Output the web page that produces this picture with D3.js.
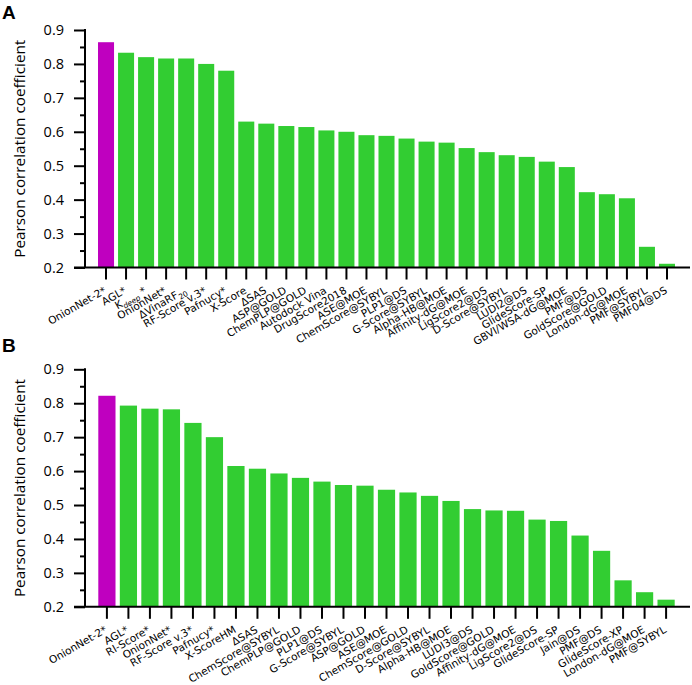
<!DOCTYPE html>
<html>
<head>
<meta charset="utf-8">
<script src="https://cdnjs.cloudflare.com/ajax/libs/d3/7.8.5/d3.min.js"></script>
<style>
  body { margin: 0; background: #fff; }
  svg { display: block; }
</style>
</head>
<body>
<svg id="chart" width="692" height="685"></svg>
<script>
// panel A
var namesA = ["OnionNet-2*", "AGL*", "K_{deep} *", "OnionNet*", "ΔVinaRF_{20}", "RF-Score v.3*",
  "Pafnucy*", "X-Score", "ΔSAS", "ASP@GOLD", "ChemPLP@GOLD", "Autodock Vina", "DrugScore2018",
  "ASE@MOE", "ChemScore@SYBYL", "PLP1@DS", "G-Score@SYBYL", "Alpha-HB@MOE", "Affinity-dG@MOE",
  "LigScore2@DS", "D-Score@SYBYL", "LUDI2@DS", "GlideScore-SP", "GBVI/WSA-dG@MOE", "PMF@DS",
  "GoldScore@GOLD", "London-dG@MOE", "PMF@SYBYL", "PMF04@DS"];
var valuesA = [0.864, 0.833, 0.820, 0.816, 0.816, 0.800, 0.780, 0.630, 0.624, 0.617, 0.614,
  0.604, 0.600, 0.590, 0.588, 0.580, 0.571, 0.568, 0.552, 0.540, 0.531, 0.526, 0.512, 0.496,
  0.422, 0.416, 0.404, 0.261, 0.211];

// panel B
var namesB = ["OnionNet-2*", "AGL*", "RI-Score*", "OnionNet*", "RF-Score v.3*", "Pafnucy*",
  "X-ScoreHM", "ΔSAS", "ChemScore@SYBYL", "ChemPLP@GOLD", "PLP1@DS", "G-Score@SYBYL",
  "ASP@GOLD", "ASE@MOE", "ChemScore@GOLD", "D-Score@SYBYL", "Alpha-HB@MOE", "LUDI3@DS",
  "GoldScore@GOLD", "Affinity-dG@MOE", "LigScore2@DS", "GlideScore-SP", "Jain@DS", "PMF@DS",
  "GlideScore-XP", "London-dG@MOE", "PMF@SYBYL"];
var valuesB = [0.822, 0.793, 0.784, 0.782, 0.742, 0.700, 0.615, 0.607, 0.593, 0.580, 0.569,
  0.559, 0.557, 0.545, 0.537, 0.527, 0.512, 0.488, 0.484, 0.483, 0.457, 0.453, 0.410, 0.365,
  0.278, 0.243, 0.221];

var yTicks = [0.2, 0.3, 0.4, 0.5, 0.6, 0.7, 0.8, 0.9];
var yMinor = [0.25, 0.35, 0.45, 0.55, 0.65, 0.75, 0.85];

var svg = d3.select("#chart");

function drawPanel(letter, letterY, names, values, top) {
  var g = svg.append("g").attr("transform", "translate(0," + top + ")");

  var y = d3.scaleLinear().domain([0.2, 0.9]).range([237.5, 0]);
  var x = d3.scaleBand().domain(names).range([94, 679]).padding(0.2);
  var axisX = 85;

  svg.append("text")
    .attr("x", 2).attr("y", letterY)
    .style("font-family", "Liberation Sans, Arial, sans-serif")
    .style("font-size", "19px").style("font-weight", "bold")
    .text(letter);

  g.selectAll("rect.bar")
    .data(values)
    .enter()
    .append("rect")
    .attr("class", "bar")
    .attr("x", (d, i) => x(names[i]))
    .attr("width", x.bandwidth())
    .attr("y", d => y(d))
    .attr("height", d => y(0.2) - y(d))
    .style("fill", (d, i) => i == 0 ? "#bf00bf" : "#32cd32");

  // y axis
  var ya = g.append("g")
    .attr("transform", "translate(" + axisX + ",0)")
    .call(d3.axisLeft(y).tickValues(yTicks).tickSize(11).tickPadding(10).tickFormat(d3.format(".1f")));
  ya.select(".domain").remove();
  ya.selectAll("line").attr("stroke-width", 2);
  ya.selectAll("text")
    .style("font-family", "Open Sans, sans-serif")
    .style("font-size", "14.5px")
    .style("fill", "#000");

  g.append("g")
    .attr("transform", "translate(" + axisX + ",0)")
    .call(d3.axisLeft(y).tickValues(yMinor).tickSize(5).tickFormat(""))
    .call(a => a.select(".domain").remove())
    .selectAll("line").attr("stroke-width", 2);

  g.append("line")
    .attr("x1", axisX).attr("x2", axisX)
    .attr("y1", y(0.9) - 1).attr("y2", y(0.2))
    .attr("stroke", "#000").attr("stroke-width", 2);

  // x axis
  g.append("line")
    .attr("x1", 74).attr("x2", 690)
    .attr("y1", y(0.2)).attr("y2", y(0.2))
    .attr("stroke", "#000").attr("stroke-width", 2);

  g.selectAll("line.xt")
    .data(names)
    .enter()
    .append("line")
    .attr("class", "xt")
    .attr("x1", d => x(d) + x.bandwidth() / 2)
    .attr("x2", d => x(d) + x.bandwidth() / 2)
    .attr("y1", y(0.2))
    .attr("y2", y(0.2) + 12)
    .attr("stroke", "#000").attr("stroke-width", 2);

  var labels = g.selectAll("text.xl")
    .data(names)
    .enter()
    .append("text")
    .attr("class", "xl")
    .attr("text-anchor", "end")
    .attr("transform", d => "translate(" + (x(d) + x.bandwidth() / 2 + 1) + "," + (y(0.2) + 25) + ") rotate(-30)")
    .style("font-family", "DejaVu Sans, sans-serif")
    .style("font-size", "10.5px");

  labels.each(function (d) {
    var t = d3.select(this);
    var parts = d.split(/_\{([^}]*)\}/);
    parts.forEach(function (p, k) {
      if (p === "") return;
      if (k % 2 == 1) {
        t.append("tspan").attr("dy", 3).style("font-size", "7.5px")
          .style("font-style", /[a-z]/.test(p) ? "italic" : "normal").text(p);
      } else {
        t.append("tspan").attr("dy", k > 0 ? -3 : 0).text(p);
      }
    });
  });

  g.append("text")
    .attr("transform", "translate(25," + (y(0.55)) + ") rotate(-90)")
    .attr("text-anchor", "middle")
    .style("font-family", "Open Sans, sans-serif")
    .style("font-size", "15.3px")
    .text("Pearson correlation coefficient");
}

drawPanel("A", 19, namesA, valuesA, 30);
drawPanel("B", 352, namesB, valuesB, 369.3);
</script>
</body>
</html>
